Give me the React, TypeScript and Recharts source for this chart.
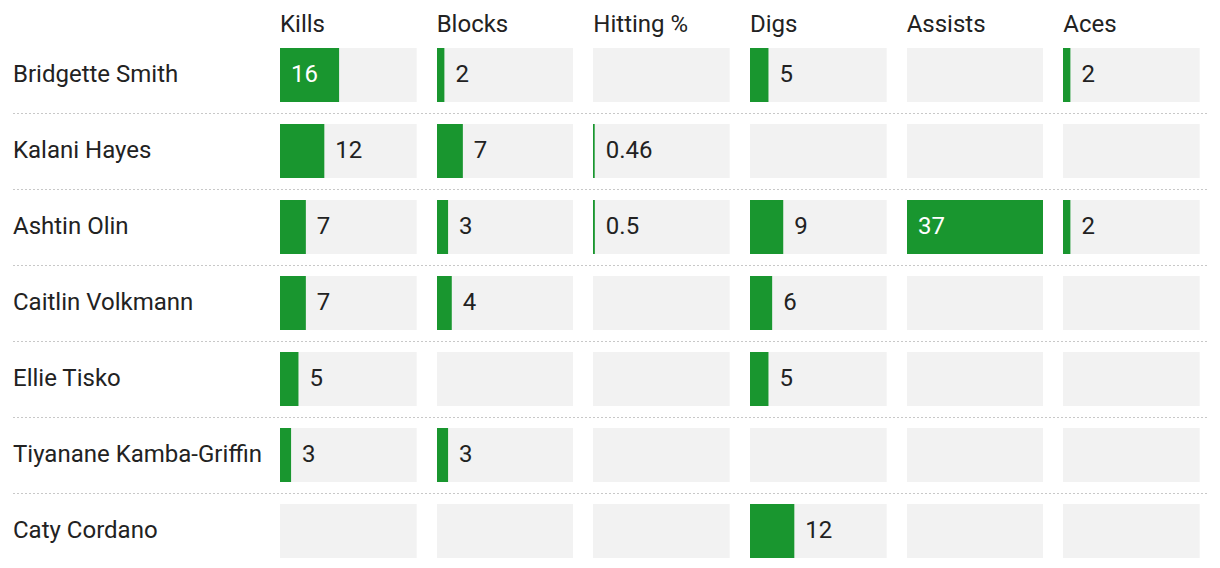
import { BarChart, Bar, XAxis, YAxis, LabelList } from 'recharts';

// ── Volleyball box score: one small bar column per stat ──

const players = [
  'Bridgette Smith',
  'Kalani Hayes',
  'Ashtin Olin',
  'Caitlin Volkmann',
  'Ellie Tisko',
  'Tiyanane Kamba-Griffin',
  'Caty Cordano',
];

const statNames = ['Kills', 'Blocks', 'Hitting %', 'Digs', 'Assists', 'Aces'];

const kills = [16, 12, 7, 7, 5, 3, null];
const blocks = [2, 7, 3, 4, null, 3, null];
const hitting = [null, 0.46, 0.5, null, null, null, null];
const digs = [5, null, 9, 6, 5, null, 12];
const assists = [null, null, 37, null, null, null, null];
const aces = [2, null, 2, null, null, null, null];

const statValues: (number | null)[][] = [kills, blocks, hitting, digs, assists, aces];

const GREEN = '#19962f';
const CELL_BG = '#f2f2f2';
const TEXT = '#222222';
const RULE = '#c8c8c8';
const FONT = 'Roboto, "Noto Sans", sans-serif';
const FONT_SIZE = 24;

const WIDTH = 1220;
const HEIGHT = 568;
const CHART_H = 570;
const MARGIN = { top: 37, right: 0, bottom: 1, left: 0 };
const NAME_W = 280;
const COL_GAP = 20;
const COL_W = (1200 - NAME_W - COL_GAP * (statNames.length - 1)) / statNames.length;
const BAR_H = 54;

// one shared scale for every column
const maxValue = Math.max(...statValues.flat().filter((v): v is number => v != null));

const NameTick = (props: any) => {
  const { y, payload, index } = props;
  const half = payload?.offset ?? 38;
  return (
    <g>
      <text x={13} y={y} dy="0.28em" fill={TEXT} fontSize={FONT_SIZE} fontFamily={FONT} textAnchor="start">
        {payload.value}
      </text>
      {index < players.length - 1 && (
        <line
          x1={13}
          x2={1208}
          y1={y + half + 0.5}
          y2={y + half + 0.5}
          stroke={RULE}
          strokeDasharray="2 2"
        />
      )}
    </g>
  );
};

const renderValue = (props: any) => {
  const { x, y, width, height, value } = props;
  if (value == null) return null;
  const inside = width > 50;
  return (
    <text
      x={inside ? x + 11 : x + width + 11}
      y={y + height / 2}
      dy="0.28em"
      fill={inside ? '#ffffff' : TEXT}
      fontSize={FONT_SIZE}
      fontFamily={FONT}
    >
      {value}
    </text>
  );
};

function StatColumn({ values }: { values: (number | null)[] }) {
  // grey track runs to the shared max so empty cells still show their cell
  const data = players.map((name, i) => ({ name, value: values[i], track: maxValue }));
  return (
    <BarChart
      width={COL_W}
      height={CHART_H}
      data={data}
      layout="vertical"
      margin={MARGIN}
      barGap={-BAR_H}
      style={{ overflow: 'visible' }}
    >
      <XAxis type="number" domain={[0, maxValue]} hide />
      <YAxis type="category" dataKey="name" hide />
      <Bar dataKey="track" fill={CELL_BG} barSize={BAR_H} isAnimationActive={false} />
      <Bar dataKey="value" fill={GREEN} barSize={BAR_H} isAnimationActive={false}>
        <LabelList dataKey="value" content={renderValue} />
      </Bar>
    </BarChart>
  );
}

export default function App() {
  const nameData = players.map((name) => ({ name }));
  return (
    <div
      style={{
        position: 'absolute',
        left: 0,
        top: 0,
        width: WIDTH,
        height: HEIGHT,
        overflow: 'hidden',
        background: '#fff',
        fontFamily: FONT,
      }}
    >
      <div style={{ position: 'absolute', left: 0, top: 0 }}>
        <BarChart width={WIDTH} height={CHART_H} data={nameData} layout="vertical" margin={MARGIN}>
          <XAxis type="number" hide />
          <YAxis type="category" dataKey="name" width={NAME_W} axisLine={false} tickLine={false} tick={<NameTick />} />
        </BarChart>
      </div>
      {statNames.map((stat, i) => {
        const left = NAME_W + i * (COL_W + COL_GAP);
        return (
          <div key={stat}>
            <div
              style={{
                position: 'absolute',
                left,
                top: 12,
                fontSize: FONT_SIZE,
                lineHeight: '24px',
                color: TEXT,
                whiteSpace: 'nowrap',
              }}
            >
              {stat}
            </div>
            <div style={{ position: 'absolute', left, top: 0 }}>
              <StatColumn values={statValues[i]} />
            </div>
          </div>
        );
      })}
    </div>
  );
}
